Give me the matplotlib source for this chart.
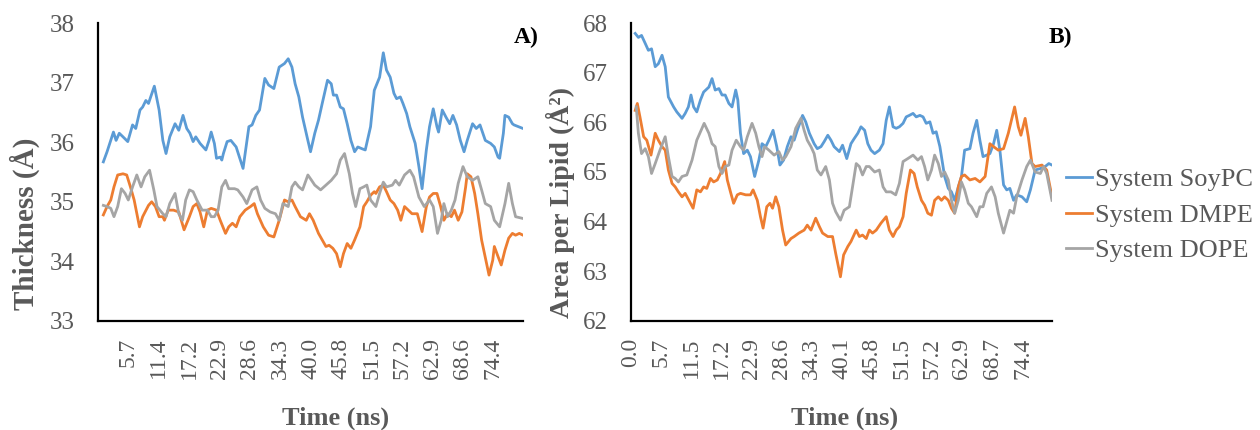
import matplotlib
matplotlib.use('Agg')
import matplotlib.pyplot as plt

plt.rcParams['font.family'] = ['Liberation Serif', 'DejaVu Serif']

series_names = ['System SoyPC', 'System DMPE', 'System DOPE']
series_colors = ['#5B9BD5', '#ED7D31', '#A5A5A5']

# panel A - bilayer thickness (angstrom) vs time (ns)
soypc_thick_t = [1.0, 1.7, 2.9, 3.4, 4.0, 4.7, 5.6, 6.5, 7.1, 7.9, 8.4, 9.0, 9.5, 9.8, 10.6, 11.5, 12.2, 12.8, 13.5, 14.5,
                 15.2, 16.0, 16.7, 17.3, 17.9, 18.4, 19.2, 20.3, 20.9, 21.3, 21.9, 22.3, 23.0, 23.3, 23.6, 24.3, 25.0, 26.0, 27.3, 28.4,
                 29.0, 29.7, 30.4, 31.4, 32.1, 33.1, 34.1, 35.1, 35.8, 36.5, 37.1, 37.8, 38.5, 39.5, 40.0, 40.8, 41.5, 42.2, 43.2, 43.9,
                 44.3, 44.9, 45.6, 46.2, 46.9, 47.6, 48.3, 48.9, 49.7, 50.3, 51.3, 52.0, 53.0, 53.7, 54.3, 55.0, 55.7, 56.2, 56.9, 57.4,
                 58.1, 58.7, 59.7, 60.4, 61.0, 61.8, 62.4, 63.1, 63.8, 64.1, 64.8, 65.5, 66.2, 66.8, 67.5, 68.2, 68.9, 69.5, 70.5, 71.2,
                 71.9, 72.9, 73.9, 74.6, 75.3, 75.6, 76.3, 76.6, 77.3, 78.0, 78.3, 80.0]
soypc_thick = [35.67, 35.84, 36.17, 36.03, 36.15, 36.09, 36.01, 36.29, 36.23, 36.54, 36.59, 36.70, 36.65, 36.73, 36.94, 36.54, 36.03, 35.81, 36.09, 36.31,
               36.20, 36.45, 36.23, 36.15, 36.01, 36.09, 35.98, 35.87, 36.03, 36.17, 35.98, 35.73, 35.75, 35.70, 35.81, 36.01, 36.03, 35.92, 35.56, 36.26,
               36.29, 36.45, 36.54, 37.07, 36.96, 36.90, 37.26, 37.32, 37.40, 37.26, 36.98, 36.76, 36.42, 36.03, 35.84, 36.15, 36.37, 36.65, 37.04, 36.98,
               36.79, 36.79, 36.59, 36.56, 36.31, 36.03, 35.84, 35.92, 35.89, 35.87, 36.26, 36.87, 37.09, 37.50, 37.21, 37.09, 36.82, 36.73, 36.76, 36.65,
               36.48, 36.26, 35.98, 35.59, 35.22, 35.87, 36.26, 36.56, 36.26, 36.17, 36.54, 36.42, 36.31, 36.45, 36.29, 36.03, 35.84, 36.03, 36.31, 36.23,
               36.29, 36.03, 35.98, 35.92, 35.75, 35.73, 36.15, 36.45, 36.42, 36.31, 36.29, 36.23]

dmpe_thick_t = [1.0, 1.7, 2.4, 3.0, 3.7, 4.7, 5.4, 6.1, 6.8, 7.8, 8.4, 9.5, 10.1, 10.8, 11.5, 12.2, 12.5, 13.2, 14.2, 15.2,
                16.2, 17.2, 17.9, 18.6, 19.2, 19.9, 20.6, 21.3, 22.3, 23.0, 24.0, 24.6, 25.3, 26.0, 26.7, 27.7, 28.7, 29.4, 30.0, 31.1,
                32.1, 33.1, 34.1, 35.1, 35.8, 36.5, 37.1, 38.1, 39.2, 39.8, 40.5, 41.5, 42.9, 43.5, 44.2, 44.9, 45.6, 46.2, 46.9, 47.6,
                48.3, 49.3, 50.0, 50.6, 51.3, 52.0, 52.3, 53.0, 53.7, 54.3, 55.0, 55.7, 56.4, 57.0, 57.7, 58.4, 59.1, 60.1, 61.0, 61.8,
                62.4, 63.1, 63.8, 64.5, 65.1, 65.8, 66.5, 67.1, 67.8, 68.5, 69.2, 69.5, 70.2, 70.9, 71.5, 72.2, 73.6, 74.3, 74.6, 75.3,
                75.9, 76.6, 77.3, 78.0, 78.6, 79.3, 80.0]
dmpe_thick = [34.78, 34.92, 35.03, 35.25, 35.45, 35.47, 35.45, 35.25, 35.03, 34.58, 34.75, 34.94, 35.00, 34.92, 34.75, 34.75, 34.69, 34.86, 34.86, 34.83,
              34.53, 34.75, 34.92, 34.97, 34.83, 34.58, 34.86, 34.89, 34.86, 34.69, 34.47, 34.58, 34.64, 34.58, 34.75, 34.86, 34.92, 34.97, 34.80, 34.58,
              34.44, 34.41, 34.69, 35.03, 35.00, 35.03, 34.92, 34.75, 34.69, 34.80, 34.69, 34.47, 34.25, 34.27, 34.22, 34.13, 33.91, 34.13, 34.30, 34.22,
              34.36, 34.58, 34.92, 35.00, 35.11, 35.17, 35.14, 35.25, 35.28, 35.17, 35.03, 34.97, 34.86, 34.69, 34.92, 34.86, 34.80, 34.80, 34.50, 34.92,
              35.08, 35.14, 35.14, 34.92, 34.69, 34.80, 34.75, 34.86, 34.69, 34.83, 35.25, 35.47, 35.42, 35.14, 34.80, 34.36, 33.77, 34.02, 34.25, 34.08,
              33.94, 34.19, 34.39, 34.47, 34.44, 34.47, 34.44]

dope_thick_t = [1.0, 1.7, 2.4, 3.0, 3.7, 4.4, 5.1, 5.7, 6.5, 7.3, 8.1, 8.8, 9.7, 10.5, 11.1, 12.2, 12.8, 13.5, 14.5, 15.2,
                15.9, 16.5, 17.2, 17.9, 18.6, 19.6, 20.6, 21.3, 21.9, 22.6, 23.3, 24.0, 24.6, 25.7, 26.3, 27.3, 28.0, 29.0, 29.9, 30.6,
                31.4, 32.4, 33.4, 34.1, 34.8, 35.8, 36.5, 37.1, 37.8, 38.5, 39.5, 40.2, 40.8, 41.9, 42.9, 43.9, 44.9, 45.6, 46.4, 47.3,
                47.9, 48.5, 49.3, 50.0, 50.6, 51.3, 52.3, 53.0, 53.7, 54.3, 55.4, 56.0, 56.7, 57.7, 58.7, 59.4, 60.4, 61.4, 62.4, 63.1,
                63.9, 64.6, 65.1, 65.8, 66.5, 67.2, 67.8, 68.7, 69.5, 70.5, 71.5, 72.2, 72.9, 73.9, 74.6, 75.6, 76.6, 77.3, 78.0, 78.6,
                80.0]
dope_thick = [34.94, 34.92, 34.89, 34.75, 34.92, 35.22, 35.14, 35.03, 35.25, 35.45, 35.25, 35.42, 35.53, 35.20, 34.92, 34.80, 34.75, 34.97, 35.14, 34.80,
              34.69, 35.03, 35.20, 35.17, 35.03, 34.86, 34.86, 34.75, 34.75, 34.86, 35.25, 35.36, 35.22, 35.22, 35.20, 35.08, 34.97, 35.20, 35.25, 35.03,
              34.89, 34.83, 34.80, 34.69, 34.97, 34.92, 35.25, 35.33, 35.25, 35.20, 35.45, 35.36, 35.28, 35.20, 35.28, 35.36, 35.47, 35.70, 35.81, 35.47,
              35.14, 34.92, 35.22, 35.25, 35.28, 35.03, 34.92, 35.14, 35.33, 35.25, 35.28, 35.36, 35.28, 35.45, 35.53, 35.42, 35.08, 34.92, 35.03, 34.92,
              34.47, 34.69, 34.97, 34.75, 34.86, 35.03, 35.31, 35.59, 35.42, 35.36, 35.42, 35.20, 34.97, 34.92, 34.69, 34.58, 34.97, 35.31, 34.97, 34.75,
              34.72]

# panel B - area per lipid (angstrom^2) vs time (ns)
soypc_area_t = [0.8, 1.4, 2.0, 2.7, 3.3, 3.9, 4.6, 5.2, 5.9, 6.5, 7.1, 8.1, 8.7, 9.7, 10.3, 10.9, 11.4, 11.9, 12.5, 13.2,
                13.8, 14.8, 15.4, 16.0, 16.7, 17.3, 17.9, 18.6, 19.2, 19.9, 20.3, 20.8, 21.4, 22.1, 22.7, 23.5, 24.3, 24.9, 25.6, 26.2,
                27.0, 27.7, 28.3, 29.0, 29.7, 30.4, 31.0, 31.6, 32.6, 33.2, 33.9, 34.8, 35.4, 36.1, 36.7, 37.4, 38.0, 38.6, 39.6, 40.2,
                41.0, 41.8, 42.4, 43.1, 43.7, 44.4, 45.0, 45.6, 46.3, 47.2, 47.9, 48.5, 49.1, 49.8, 50.4, 51.0, 51.7, 52.3, 52.9, 53.6,
                54.2, 54.9, 55.5, 56.1, 56.8, 57.4, 58.0, 58.7, 59.6, 60.3, 60.9, 61.5, 62.2, 62.8, 63.4, 64.4, 65.0, 65.7, 66.3, 66.9,
                67.6, 68.2, 68.9, 69.5, 70.1, 70.8, 71.4, 72.0, 72.7, 73.3, 74.3, 75.2, 75.9, 76.8, 77.8, 78.7, 79.4, 80.0]
soypc_area = [67.79, 67.71, 67.75, 67.59, 67.45, 67.48, 67.12, 67.18, 67.35, 67.12, 66.51, 66.31, 66.21, 66.08, 66.18, 66.31, 66.55, 66.31, 66.21, 66.45,
              66.61, 66.71, 66.88, 66.65, 66.68, 66.55, 66.55, 66.38, 66.31, 66.65, 66.45, 65.78, 65.37, 65.44, 65.31, 64.91, 65.24, 65.57, 65.51, 65.64,
              65.84, 65.51, 65.14, 65.24, 65.51, 65.71, 65.64, 65.84, 66.14, 66.01, 65.78, 65.57, 65.47, 65.51, 65.61, 65.74, 65.64, 65.51, 65.41, 65.54,
              65.27, 65.57, 65.67, 65.78, 65.91, 65.84, 65.57, 65.44, 65.37, 65.44, 65.57, 66.04, 66.31, 65.91, 65.88, 65.91, 65.98, 66.11, 66.14, 66.18,
              66.11, 66.14, 66.11, 65.98, 66.01, 65.78, 65.81, 65.51, 64.91, 64.67, 64.60, 64.43, 64.70, 64.91, 65.44, 65.47, 65.78, 66.04, 65.64, 65.31,
              65.34, 65.37, 65.57, 65.84, 65.44, 64.74, 64.64, 64.67, 64.43, 64.54, 64.50, 64.40, 64.64, 65.04, 65.07, 65.11, 65.17, 65.14]

dmpe_area_t = [0.8, 1.2, 1.7, 2.4, 3.0, 3.8, 4.6, 5.2, 5.9, 6.5, 7.1, 7.8, 8.4, 9.0, 9.7, 10.3, 11.3, 11.8, 12.5, 13.2,
               13.8, 14.4, 15.1, 15.7, 16.4, 17.0, 17.8, 18.3, 18.9, 19.5, 20.2, 20.8, 21.8, 22.7, 23.2, 24.0, 24.6, 25.1, 25.8, 26.4,
               26.9, 27.5, 28.1, 28.8, 29.4, 30.4, 31.0, 31.9, 32.9, 33.5, 34.2, 35.1, 35.8, 36.4, 37.4, 38.3, 38.9, 39.8, 40.4, 41.2,
               41.8, 42.8, 43.4, 44.0, 44.7, 45.3, 45.9, 46.6, 47.5, 48.5, 49.1, 49.8, 50.4, 51.0, 51.7, 52.3, 53.1, 53.8, 54.4, 55.2,
               55.8, 56.4, 57.1, 57.7, 58.4, 59.0, 59.6, 60.3, 60.9, 61.5, 62.2, 62.8, 63.4, 64.4, 65.4, 66.3, 67.3, 68.2, 68.9, 69.8,
               70.8, 71.7, 72.9, 73.6, 74.1, 74.9, 75.5, 76.2, 76.8, 78.1, 79.0, 80.0]
dmpe_area = [66.24, 66.38, 66.11, 65.71, 65.64, 65.34, 65.78, 65.64, 65.51, 65.44, 65.04, 64.77, 64.70, 64.60, 64.50, 64.57, 64.37, 64.27, 64.64, 64.60,
             64.70, 64.67, 64.87, 64.80, 64.84, 64.97, 65.21, 64.84, 64.60, 64.37, 64.54, 64.57, 64.54, 64.54, 64.64, 64.43, 64.10, 63.87, 64.30, 64.37,
             64.27, 64.50, 64.30, 63.83, 63.53, 63.66, 63.70, 63.77, 63.83, 63.93, 63.83, 64.07, 63.90, 63.77, 63.70, 63.70, 63.36, 62.89, 63.33, 63.50,
             63.60, 63.83, 63.70, 63.73, 63.66, 63.83, 63.77, 63.83, 63.97, 64.10, 63.83, 63.70, 63.83, 63.90, 64.10, 64.57, 65.04, 64.97, 64.70, 64.43,
             64.33, 64.17, 64.13, 64.43, 64.50, 64.43, 64.50, 64.43, 64.27, 64.17, 64.70, 64.91, 64.94, 64.84, 64.87, 64.80, 64.91, 65.57, 65.51, 65.44,
             65.47, 65.78, 66.31, 65.91, 65.74, 66.08, 65.71, 65.17, 65.11, 65.14, 65.04, 64.50]

dope_area_t = [1.0, 1.4, 2.0, 2.7, 3.3, 3.9, 4.6, 5.5, 6.5, 7.1, 7.8, 8.4, 9.0, 9.7, 10.6, 11.6, 12.5, 13.9, 14.8, 15.4,
               16.0, 16.7, 17.3, 17.9, 18.6, 19.2, 20.0, 20.8, 21.4, 22.1, 23.0, 23.7, 24.3, 24.9, 25.4, 26.2, 27.2, 28.1, 28.8, 29.4,
               30.4, 31.3, 32.3, 32.9, 33.5, 34.2, 34.8, 35.4, 36.1, 37.0, 37.7, 38.3, 38.9, 39.8, 40.5, 41.5, 42.1, 42.8, 43.4, 44.0,
               44.7, 45.3, 46.3, 47.2, 47.9, 48.5, 49.4, 50.3, 51.0, 51.7, 52.6, 53.6, 54.5, 55.2, 55.8, 56.4, 57.1, 57.7, 58.4, 59.0,
               59.6, 60.3, 60.9, 61.5, 62.2, 62.8, 63.4, 64.1, 64.7, 65.7, 66.3, 66.9, 67.6, 68.5, 69.2, 69.8, 70.8, 71.4, 72.0, 72.7,
               73.3, 74.3, 75.2, 75.9, 76.8, 77.8, 78.4, 79.0, 80.0]
dope_area = [66.31, 65.78, 65.37, 65.47, 65.31, 64.97, 65.17, 65.44, 65.71, 65.31, 64.91, 64.87, 64.80, 64.91, 64.94, 65.24, 65.64, 65.98, 65.78, 65.57,
             65.51, 65.11, 64.97, 65.11, 65.14, 65.44, 65.64, 65.51, 65.44, 65.71, 65.98, 65.78, 65.51, 65.31, 65.51, 65.44, 65.34, 65.41, 65.24, 65.31,
             65.51, 65.88, 66.08, 65.84, 65.64, 65.51, 65.37, 65.04, 64.94, 65.11, 64.84, 64.37, 64.20, 64.03, 64.23, 64.30, 64.70, 65.17, 65.11, 64.94,
             65.11, 65.11, 65.00, 65.04, 64.70, 64.60, 64.60, 64.54, 64.77, 65.21, 65.27, 65.34, 65.24, 65.31, 65.11, 64.84, 65.04, 65.34, 65.17, 64.91,
             65.00, 64.84, 64.43, 64.17, 64.43, 64.80, 64.64, 64.37, 64.30, 64.10, 64.30, 64.30, 64.57, 64.70, 64.50, 64.17, 63.77, 64.00, 64.23, 64.17,
             64.50, 64.84, 65.11, 65.24, 65.00, 64.97, 65.11, 64.97, 64.43]

# category labels excel printed under each panel
thick_ticks = [5.7, 11.4, 17.2, 22.9, 28.6, 34.3, 40.0, 45.8, 51.5, 57.2, 62.9, 68.6, 74.4]
area_ticks = [0.0, 5.7, 11.5, 17.2, 22.9, 28.6, 34.3, 40.1, 45.8, 51.5, 57.2, 62.9, 68.7, 74.4]

GREY_TEXT = '#595959'


# excel look: only left and bottom axis lines, no tick marks, grey labels
def style_axis(ax, y_min, y_max, ticks):
    ax.set_xlim(0, 80)
    ax.set_ylim(y_min, y_max)
    ax.set_yticks(range(y_min, y_max + 1))
    ax.set_xticks(ticks)
    ax.set_xticklabels(['%.1f' % t for t in ticks], rotation=90, va='top')
    ax.tick_params(axis='x', length=0, pad=12, labelsize=17, colors=GREY_TEXT)
    ax.tick_params(axis='y', length=0, pad=17, labelsize=18, colors=GREY_TEXT)
    ax.spines['top'].set_visible(False)
    ax.spines['right'].set_visible(False)
    ax.spines['left'].set_linewidth(1.6)
    ax.spines['bottom'].set_linewidth(1.6)


fig = plt.figure(figsize=(12.6, 4.3), dpi=100)
ax_a = fig.add_axes([0.0778, 0.2535, 0.3373, 0.6930])
ax_b = fig.add_axes([0.5008, 0.2535, 0.3341, 0.6930])

thick_data = [(soypc_thick_t, soypc_thick), (dmpe_thick_t, dmpe_thick), (dope_thick_t, dope_thick)]
area_data = [(soypc_area_t, soypc_area), (dmpe_area_t, dmpe_area), (dope_area_t, dope_area)]

for (t, v), name, color in zip(thick_data, series_names, series_colors):
    ax_a.plot(t, v, color=color, linewidth=2.0, label=name, solid_joinstyle='round')
for (t, v), name, color in zip(area_data, series_names, series_colors):
    ax_b.plot(t, v, color=color, linewidth=2.0, label=name, solid_joinstyle='round')

style_axis(ax_a, 33, 38, thick_ticks)
style_axis(ax_b, 62, 68, area_ticks)

# axis titles placed where excel put them
fig.text(25 / 1260, 1 - 224 / 430, 'Thickness (Å)', rotation=90, ha='center', va='center',
         fontsize=21, fontweight='bold', color=GREY_TEXT)
fig.text(560 / 1260, 1 - 202 / 430, 'Area per Lipid (Å²)', rotation=90, ha='center', va='center',
         fontsize=20, fontweight='bold', color=GREY_TEXT)
fig.text(336 / 1260, 1 - 418 / 430, 'Time (ns)', ha='center', va='center',
         fontsize=19, fontweight='bold', color=GREY_TEXT)
fig.text(845 / 1260, 1 - 418 / 430, 'Time (ns)', ha='center', va='center',
         fontsize=19, fontweight='bold', color=GREY_TEXT)

# panel letters
fig.text(526 / 1260, 1 - 37 / 430, 'A)', ha='center', va='center', fontsize=17, fontweight='bold', color='black')
fig.text(1060 / 1260, 1 - 37 / 430, 'B)', ha='center', va='center', fontsize=17, fontweight='bold', color='black')

handles, labels = ax_b.get_legend_handles_labels()
leg = fig.legend(handles, labels, loc='upper left', bbox_to_anchor=(1066 / 1260, 1 - 168 / 430),
                 frameon=False, fontsize=19, handlelength=1.0, handletextpad=0.1,
                 labelspacing=0.45, borderpad=0, borderaxespad=0)
for txt in leg.get_texts():
    txt.set_color(GREY_TEXT)

plt.savefig('out.png', dpi=100)
